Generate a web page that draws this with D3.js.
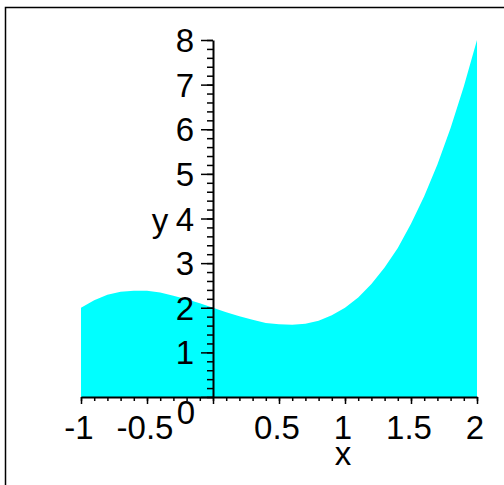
<!DOCTYPE html>
<html>
<head>
<meta charset="utf-8">
<script src="https://cdn.jsdelivr.net/npm/d3@7"></script>
<style>
  body { margin: 0; background: #fff; }
  svg text { font-family: "Liberation Sans", Arial, sans-serif; fill: #000; }
  .axis path, .axis line { stroke: #000; }
</style>
</head>
<body>
<div id="chart"></div>
<script>
// values
var xValues = [-1, -0.9, -0.8, -0.7, -0.6, -0.5, -0.4, -0.3, -0.2, -0.1, 0,
               0.1, 0.2, 0.3, 0.4, 0.5, 0.6, 0.7, 0.8, 0.9, 1,
               1.1, 1.2, 1.3, 1.4, 1.5, 1.6, 1.7, 1.8, 1.9, 2];
var yValues = [2.0, 2.17, 2.29, 2.36, 2.38, 2.38, 2.34, 2.27, 2.19, 2.10, 2.0,
               1.90, 1.81, 1.73, 1.66, 1.63, 1.62, 1.64, 1.71, 1.83, 2.0,
               2.23, 2.53, 2.90, 3.34, 3.88, 4.50, 5.21, 6.03, 6.96, 8.0];

var xTickValues = [-1, -0.5, 0.5, 1, 1.5, 2];
var xTickLabels = ["-1", "-0.5", "0.5", "1", "1.5", "2"];
var yTickValues = [1, 2, 3, 4, 5, 6, 7, 8];
var yTickLabels = ["1", "2", "3", "4", "5", "6", "7", "8"];

var width = 504, height = 485;

var svg = d3.select("#chart").append("svg")
  .attr("width", width)
  .attr("height", height);

// frame (runs off the right and bottom edges)
svg.append("rect")
  .attr("x", 5.5).attr("y", 7.5)
  .attr("width", 700).attr("height", 700)
  .attr("fill", "none")
  .attr("stroke", "#000")
  .attr("stroke-width", 1.5);

var x = d3.scaleLinear().domain([-1, 2]).range([81, 477]);
var y = d3.scaleLinear().domain([0, 8]).range([397, 40]);

var pts = xValues.map(function(d, i) { return [d, yValues[i]]; });

var area = d3.area()
  .x(function(d) { return x(d[0]); })
  .y0(y(0))
  .y1(function(d) { return y(d[1]); });

svg.append("path")
  .datum(pts)
  .attr("fill", "#00ffff")
  .attr("d", area);

// X axis: minor ticks every 0.1, major every 0.5
var xMinor = d3.range(-10, 21).map(function(i) { return i / 10; });
var xMajor = [-1, -0.5, 0, 0.5, 1, 1.5, 2];

svg.append("g")
  .attr("class", "axis")
  .attr("transform", "translate(0," + y(0) + ")")
  .call(d3.axisBottom(x).tickValues(xMinor).tickSize(4).tickSizeOuter(0).tickFormat(""))
  .call(function(g) {
    g.select(".domain").attr("stroke-width", 2);
    g.selectAll(".tick line").attr("stroke-width", 1.5);
  });

svg.append("g")
  .attr("class", "axis")
  .attr("transform", "translate(0," + y(0) + ")")
  .call(d3.axisBottom(x).tickValues(xMajor).tickSize(7).tickSizeOuter(0).tickFormat(""))
  .call(function(g) {
    g.select(".domain").remove();
    g.selectAll(".tick line").attr("stroke-width", 1.5);
  });

// Y axis: minor ticks every 0.2, major every 1
var yMinor = d3.range(0, 41).map(function(i) { return i / 5; });
var yMajor = d3.range(0, 9);

svg.append("g")
  .attr("class", "axis")
  .attr("transform", "translate(" + x(0) + ",0)")
  .call(d3.axisLeft(y).tickValues(yMinor).tickSize(6).tickSizeOuter(0).tickFormat(""))
  .call(function(g) {
    g.select(".domain").attr("stroke-width", 2);
    g.selectAll(".tick line").attr("stroke-width", 1.5);
  });

svg.append("g")
  .attr("class", "axis")
  .attr("transform", "translate(" + x(0) + ",0)")
  .call(d3.axisLeft(y).tickValues(yMajor).tickSize(12).tickSizeOuter(0).tickFormat(""))
  .call(function(g) {
    g.select(".domain").remove();
    g.selectAll(".tick line").attr("stroke-width", 1.5);
  });

// tick labels
svg.selectAll(".xlab")
  .data(xTickValues)
  .enter().append("text")
  .attr("class", "xlab")
  .attr("x", function(d) { return x(d) - 2; })
  .attr("y", 439)
  .attr("text-anchor", "middle")
  .style("font-size", "33px")
  .text(function(d, i) { return xTickLabels[i]; });

svg.selectAll(".ylab")
  .data(yTickValues)
  .enter().append("text")
  .attr("class", "ylab")
  .attr("x", x(0) - 19)
  .attr("y", function(d) { return y(d) + 12; })
  .attr("text-anchor", "end")
  .style("font-size", "33px")
  .text(function(d, i) { return yTickLabels[i]; });

// origin label
svg.append("text")
  .attr("x", 186)
  .attr("y", 424)
  .attr("text-anchor", "middle")
  .style("font-size", "33px")
  .text("0");

// axis titles
svg.append("text")
  .attr("x", 343)
  .attr("y", 465)
  .attr("text-anchor", "middle")
  .style("font-size", "33px")
  .text("x");

svg.append("text")
  .attr("x", 160)
  .attr("y", 232)
  .attr("text-anchor", "middle")
  .style("font-size", "33px")
  .text("y");
</script>
</body>
</html>
